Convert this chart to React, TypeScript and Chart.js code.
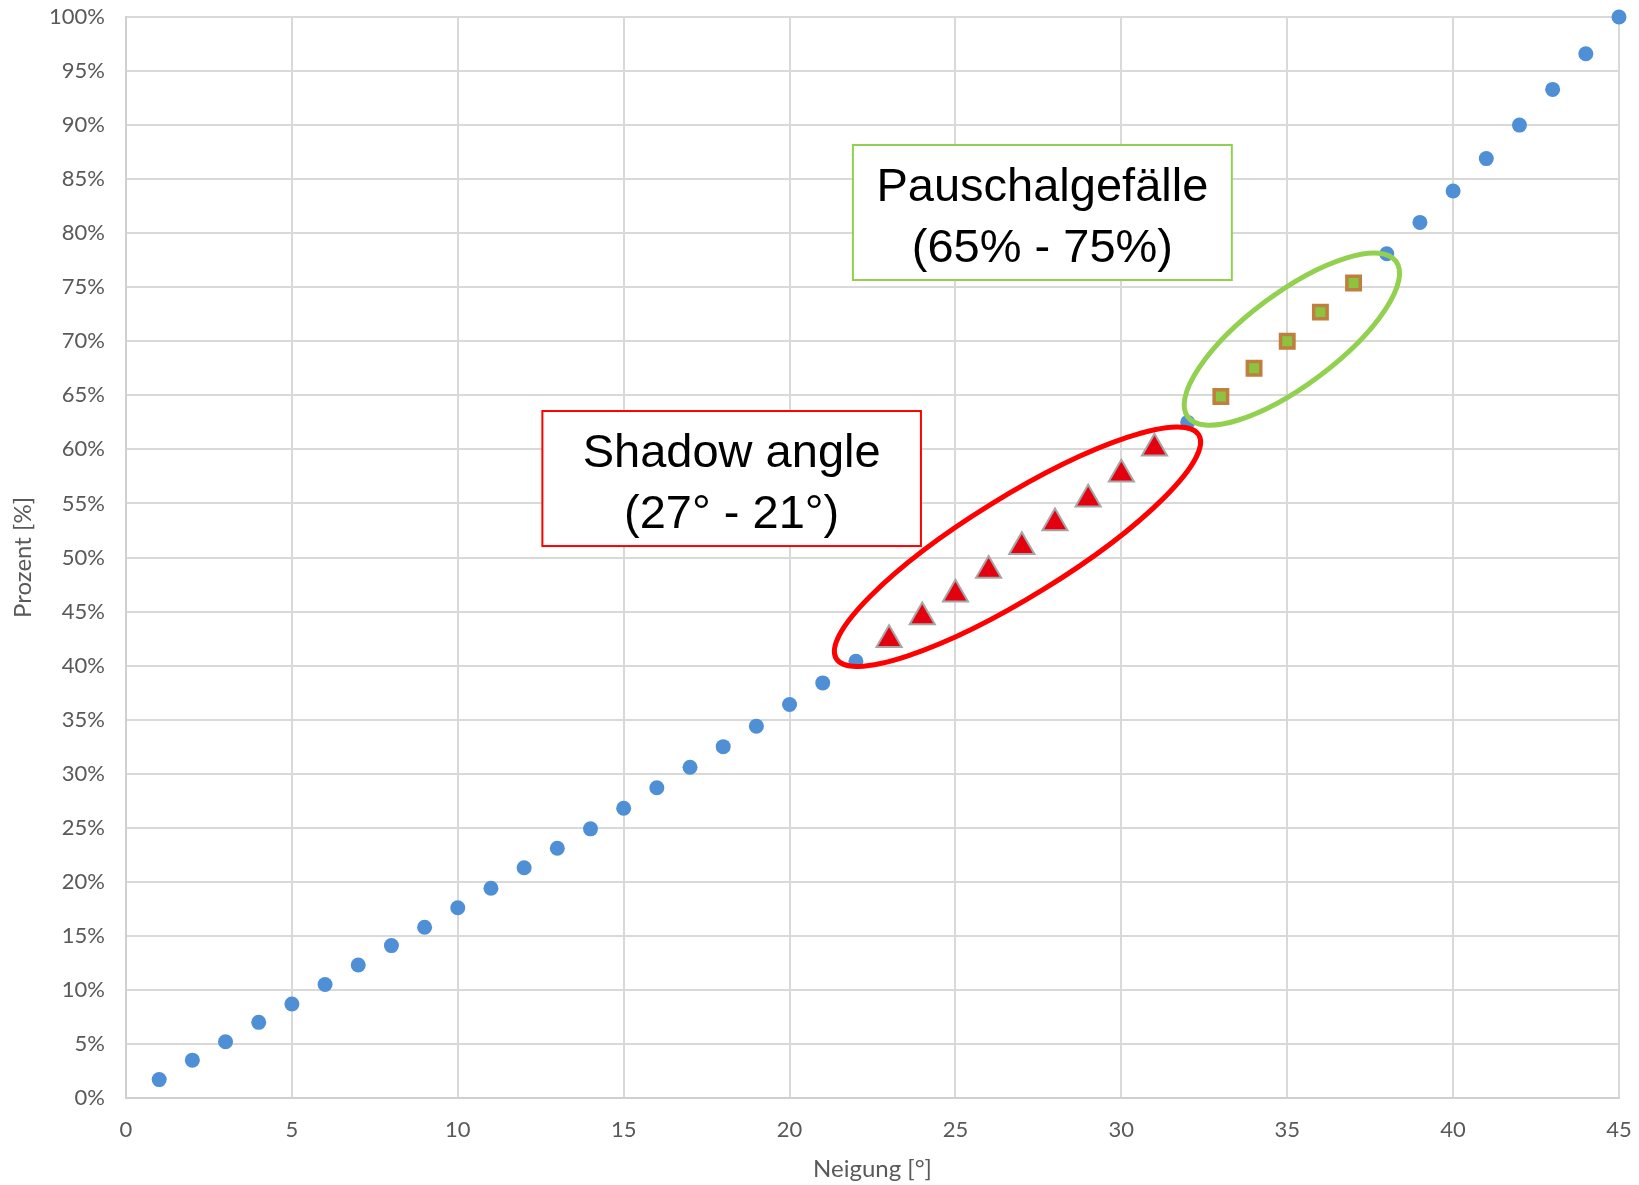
import { useEffect, useRef } from "react";
import { Chart, registerables } from "chart.js";

Chart.register(...registerables);

// Slope in degrees (x) against slope in percent (y)
const circleAngles = [
  1, 2, 3, 4, 5, 6, 7, 8, 9, 10, 11, 12, 13, 14, 15, 16, 17, 18, 19, 20, 21, 22,
  32, 38, 39, 40, 41, 42, 43, 44, 45,
];
const circlePercents = [
  1.7, 3.5, 5.2, 7.0, 8.7, 10.5, 12.3, 14.1, 15.8, 17.6, 19.4, 21.3, 23.1, 24.9,
  26.8, 28.7, 30.6, 32.5, 34.4, 36.4, 38.4, 40.4, 62.5, 78.1, 81.0, 83.9, 86.9,
  90.0, 93.3, 96.6, 100.0,
];
const triangleAngles = [23, 24, 25, 26, 27, 28, 29, 30, 31];
const trianglePercents = [42.4, 44.5, 46.6, 48.8, 51.0, 53.2, 55.4, 57.7, 60.1];
const squareAngles = [33, 34, 35, 36, 37];
const squarePercents = [64.9, 67.5, 70.0, 72.7, 75.4];

const xMin = 0;
const xMax = 45;
const xStep = 5;
const yMin = 0;
const yMax = 100;
const yStep = 5;

const xTitle = "Neigung [°]";
const yTitle = "Prozent [%]";
const shadowNote = ["Shadow angle", "(27° - 21°)"];
const pauschalNote = ["Pauschalgefälle", "(65% - 75%)"];

const axisFont = "Lato, 'Open Sans', sans-serif";
const noteFont = "'Liberation Sans', Arial, sans-serif";
const axisGrey = "#595959";
const gridGrey = "#d9d9d9";

const toPoints = (xs: number[], ys: number[]) =>
  xs.map((x, i) => ({ x, y: ys[i] }));

type NoteBox = {
  lines: string[];
  x1: number;
  x2: number;
  y1: number;
  y2: number;
  color: string;
};
type Ring = {
  cx: number;
  cy: number;
  a: number;
  b: number;
  tiltDeg: number;
  color: string;
};

// Highlight rings and labelled boxes, placed in data coordinates
const rings: Ring[] = [
  { cx: 26.87, cy: 51.0, a: 213, b: 50, tiltDeg: 31.7, color: "#ff0000" },
  { cx: 35.14, cy: 70.2, a: 130, b: 46, tiltDeg: 36.8, color: "#92d050" },
];
const boxes: NoteBox[] = [
  { lines: shadowNote, x1: 12.55, x2: 23.96, y1: 51.06, y2: 63.55, color: "#ff0000" },
  { lines: pauschalNote, x1: 21.91, x2: 33.33, y1: 75.67, y2: 88.16, color: "#92d050" },
];

const notesPlugin = {
  id: "notes",
  afterDatasetsDraw(chart: any) {
    const { ctx, scales } = chart;
    const xs = scales.x;
    const ys = scales.y;
    ctx.save();
    for (const r of rings) {
      ctx.beginPath();
      ctx.ellipse(
        xs.getPixelForValue(r.cx),
        ys.getPixelForValue(r.cy),
        r.a,
        r.b,
        (-r.tiltDeg * Math.PI) / 180,
        0,
        Math.PI * 2
      );
      ctx.lineWidth = 5;
      ctx.strokeStyle = r.color;
      ctx.stroke();
    }
    for (const b of boxes) {
      const left = xs.getPixelForValue(b.x1);
      const right = xs.getPixelForValue(b.x2);
      const top = ys.getPixelForValue(b.y2);
      const bottom = ys.getPixelForValue(b.y1);
      ctx.fillStyle = "#ffffff";
      ctx.fillRect(left, top, right - left, bottom - top);
      ctx.lineWidth = 2;
      ctx.strokeStyle = b.color;
      ctx.strokeRect(left, top, right - left, bottom - top);
      ctx.fillStyle = "#000000";
      ctx.font = `47px ${noteFont}`;
      ctx.textAlign = "center";
      ctx.textBaseline = "alphabetic";
      const cx = (left + right) / 2;
      b.lines.forEach((line, i) => {
        ctx.fillText(line, cx, top + 56 + i * 61);
      });
    }
    ctx.restore();
  },
};

export default function App() {
  const canvasRef = useRef<HTMLCanvasElement | null>(null);

  useEffect(() => {
    const canvas = canvasRef.current;
    if (!canvas) return;
    const chart = new Chart(canvas, {
      type: "scatter",
      data: {
        datasets: [
          {
            label: "Neigung",
            data: toPoints(circleAngles, circlePercents),
            pointStyle: "circle",
            pointRadius: 7.5,
            pointBackgroundColor: "#4f8fd6",
            pointBorderWidth: 0,
            clip: false,
          },
          {
            label: "Shadow angle",
            data: toPoints(triangleAngles, trianglePercents),
            pointStyle: "triangle",
            pointRadius: 14.5,
            pointBackgroundColor: "#e3000f",
            pointBorderColor: "#a6a6a6",
            pointBorderWidth: 2,
            clip: false,
          },
          {
            label: "Pauschalgefälle",
            data: toPoints(squareAngles, squarePercents),
            pointStyle: "rect",
            pointRadius: 9.5,
            pointBackgroundColor: "#8cc43f",
            pointBorderColor: "#bf7f3f",
            pointBorderWidth: 3.5,
            clip: false,
          },
        ],
      },
      options: {
        animation: false,
        responsive: false,
        devicePixelRatio: 1,
        layout: {
          autoPadding: false,
          padding: { left: 0, top: 17, right: 20, bottom: 0 },
        },
        plugins: {
          legend: { display: false },
          tooltip: { enabled: false },
        },
        scales: {
          x: {
            type: "linear",
            min: xMin,
            max: xMax,
            afterFit(scale: any) {
              scale.height = 87;
              scale.paddingLeft = 0;
              scale.paddingRight = 0;
            },
            ticks: {
              stepSize: xStep,
              color: axisGrey,
              font: { family: axisFont, size: 22 },
              padding: 19,
            },
            grid: { color: gridGrey, lineWidth: 2, drawTicks: false },
            border: { color: "#d0d0d0", width: 2 },
            title: {
              display: true,
              text: xTitle,
              color: axisGrey,
              font: { family: axisFont, size: 24 },
              padding: { top: 0, bottom: 1 },
            },
          },
          y: {
            type: "linear",
            min: yMin,
            max: yMax,
            afterFit(scale: any) {
              scale.width = 126;
              scale.paddingTop = 0;
              scale.paddingBottom = 0;
            },
            ticks: {
              stepSize: yStep,
              color: axisGrey,
              font: { family: axisFont, size: 22 },
              padding: 21,
              callback: (v: any) => `${v}%`,
            },
            grid: { color: gridGrey, lineWidth: 2, drawTicks: false },
            border: { color: "#d0d0d0", width: 2 },
            title: {
              display: true,
              text: yTitle,
              color: axisGrey,
              font: { family: axisFont, size: 24 },
              padding: { top: 9, bottom: 0 },
            },
          },
        },
      },
      plugins: [notesPlugin],
    });
    return () => chart.destroy();
  }, []);

  return (
    <div
      style={{
        position: "absolute",
        left: 0,
        top: 0,
        width: 1639,
        height: 1185,
        background: "#ffffff",
      }}
    >
      <canvas
        ref={canvasRef}
        width={1639}
        height={1185}
        style={{ display: "block", width: 1639, height: 1185 }}
      />
    </div>
  );
}
